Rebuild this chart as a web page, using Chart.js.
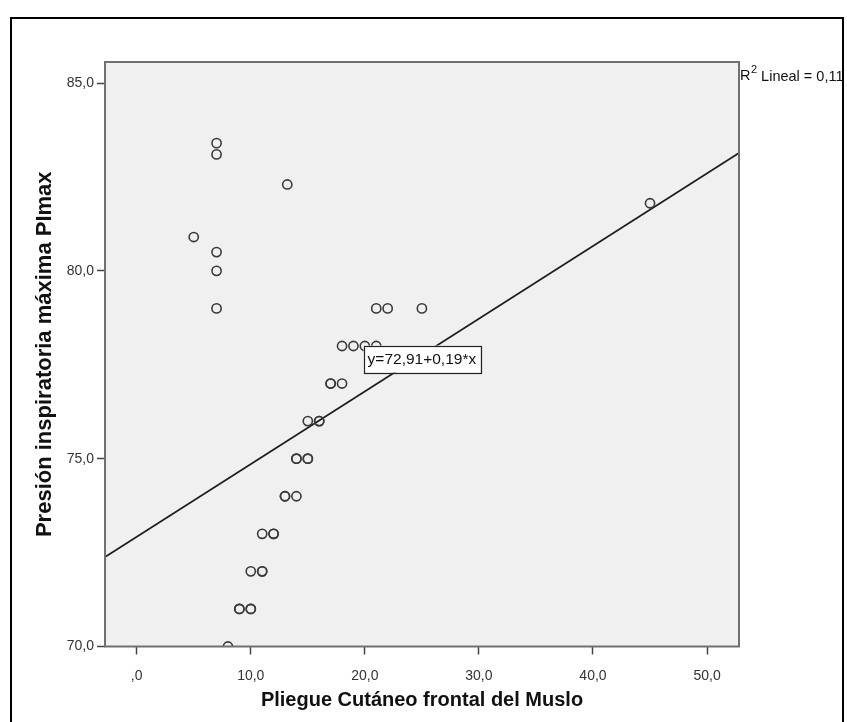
<!DOCTYPE html>
<html><head><meta charset="utf-8">
<script src="https://cdn.jsdelivr.net/npm/chart.js@4.4.0/dist/chart.umd.min.js"></script>
<style>html,body{margin:0;padding:0;background:#fff;} #wrap{width:847px;height:722px;position:relative;}</style>
</head><body><div id="wrap"><canvas id="c" width="847" height="722"></canvas></div>
<script>
// ---- data ----
const pliegueX = [5, 7, 7, 7, 7, 7, 13.2, 8, 9, 9, 10, 10, 10, 11, 11, 11, 12, 12, 13, 13, 14, 14, 14, 15, 15, 15, 16, 16, 17, 17, 18, 18, 19, 20, 21, 21, 22, 25, 45];
const presionY = [80.9, 83.4, 83.1, 80.5, 80.0, 79.0, 82.3, 70.0, 71, 71, 71, 71, 72, 72, 72, 73, 73, 73, 74, 74, 74, 75, 75, 75, 75, 76, 76, 76, 77, 77, 77, 78, 78, 78, 78, 79, 79, 79, 81.8];
const xTickValues = [0, 10, 20, 30, 40, 50];
const xTickLabels = [',0', '10,0', '20,0', '30,0', '40,0', '50,0'];
const yTickValues = [70, 75, 80, 85];
const yTickLabels = ['70,0', '75,0', '80,0', '85,0'];
const fitLineX = [-2.78, 52.8];
const fitLineY = [72.38, 83.14];
const fitEquation = 'y=72,91+0,19*x';
const r2Label = ' Lineal = 0,117';
const xTitle = 'Pliegue Cutáneo frontal del Muslo';
const yTitle = 'Presión inspiratoria máxima PImax';
</script>
<script>
const pts = pliegueX.map((x, i) => ({x: x, y: presionY[i]}));
const fitPts = fitLineX.map((x, i) => ({x: x, y: fitLineY[i]}));

const FONT = '"Liberation Sans", Arial, sans-serif';

const decor = {
  id: 'decor',
  beforeDraw(chart) {
    const ctx = chart.ctx, a = chart.chartArea;
    ctx.save();
    ctx.fillStyle = '#ffffff';
    ctx.fillRect(0, 0, chart.width, chart.height);
    ctx.fillStyle = '#f0f0f0';
    ctx.fillRect(a.left, a.top, a.right - a.left, a.bottom - a.top);
    ctx.strokeStyle = '#000';
    ctx.lineWidth = 2;
    ctx.beginPath();
    ctx.moveTo(11, 740); ctx.lineTo(11, 18); ctx.lineTo(843, 18); ctx.lineTo(843, 740);
    ctx.stroke();
    ctx.restore();
  },
  afterDatasetsDraw(chart) {
    const ctx = chart.ctx, a = chart.chartArea;
    const xs = chart.scales.x, ys = chart.scales.y;
    ctx.save();
    ctx.strokeStyle = '#707070';
    ctx.lineWidth = 2;
    ctx.strokeRect(a.left, a.top, a.right - a.left, a.bottom - a.top);
    // equation box
    ctx.font = '15.5px ' + FONT;
    const tw = ctx.measureText(fitEquation).width;
    const cx = xs.getPixelForValue(25.0), cy = ys.getPixelForValue(77.65);
    const bw = tw + 8, bh = 27;
    ctx.fillStyle = '#fff';
    ctx.fillRect(cx - bw / 2, cy - bh / 2, bw, bh);
    ctx.strokeStyle = '#222';
    ctx.lineWidth = 1.2;
    ctx.strokeRect(Math.round(cx - bw / 2) + 0.5, Math.round(cy - bh / 2) + 0.5, Math.round(bw), Math.round(bh));
    ctx.fillStyle = '#111';
    ctx.textBaseline = 'middle';
    ctx.textAlign = 'center';
    ctx.fillText(fitEquation, cx, cy + 1);
    // R2 label, clipped by the frame
    ctx.beginPath();
    ctx.rect(a.right, 19, 843 - 1 - a.right, 100);
    ctx.clip();
    ctx.textAlign = 'left';
    ctx.fillStyle = '#111';
    let x = a.right + 1;
    ctx.font = '14.5px ' + FONT;
    ctx.fillText('R', x, 76);
    x += ctx.measureText('R').width;
    ctx.font = '11px ' + FONT;
    ctx.fillText('2', x + 0.5, 70);
    x += ctx.measureText('2').width + 0.5;
    ctx.font = '14.5px ' + FONT;
    ctx.fillText(r2Label, x, 77);
    ctx.restore();
  }
};

new Chart(document.getElementById('c'), {
  type: 'scatter',
  data: {
    datasets: [
      {
        type: 'line',
        data: fitPts,
        borderColor: '#1c1c1c',
        borderWidth: 1.8,
        pointRadius: 0,
        fill: false,
        order: 2
      },
      {
        data: pts,
        pointStyle: 'circle',
        pointRadius: 4.6,
        pointBorderWidth: 1.6,
        pointBackgroundColor: 'rgba(0,0,0,0)',
        pointBorderColor: '#3a3a3a',
        clip: 0,
        order: 1
      }
    ]
  },
  plugins: [decor],
  options: {
    responsive: false,
    animation: false,
    devicePixelRatio: 1,
    layout: { padding: { left: 0, top: 62, right: 108, bottom: 0 } },
    plugins: { legend: { display: false }, tooltip: { enabled: false } },
    scales: {
      x: {
        type: 'linear',
        min: -2.78, max: 52.8,
        afterBuildTicks(s) { s.ticks = xTickValues.map(v => ({value: v})); },
        afterFit(s) { s.height = 75.5; },
        ticks: {
          autoSkip: false, maxRotation: 0, padding: 13,
          color: '#333', font: { family: FONT, size: 14 },
          callback: (v) => xTickLabels[xTickValues.indexOf(v)]
        },
        grid: { drawOnChartArea: false, drawTicks: true, tickLength: 8, tickColor: '#444', tickWidth: 1.5 },
        border: { display: false },
        title: { display: true, text: xTitle, color: '#111', font: { family: FONT, size: 20, weight: 'bold' }, padding: { top: 0, bottom: 10 } }
      },
      y: {
        type: 'linear',
        min: 70, max: 85.56,
        afterBuildTicks(s) { s.ticks = yTickValues.map(v => ({value: v})); },
        afterFit(s) { s.width = 105; },
        ticks: {
          autoSkip: false, padding: 3,
          color: '#333', font: { family: FONT, size: 14 },
          callback: (v) => yTickLabels[yTickValues.indexOf(v)]
        },
        grid: { drawOnChartArea: false, drawTicks: true, tickLength: 8, tickColor: '#444', tickWidth: 1.5 },
        border: { display: false },
        title: { display: true, text: yTitle, color: '#111', font: { family: FONT, size: 22, weight: 'bold' }, padding: { top: 32, bottom: 0 } }
      }
    }
  }
});
</script>
</body></html>
